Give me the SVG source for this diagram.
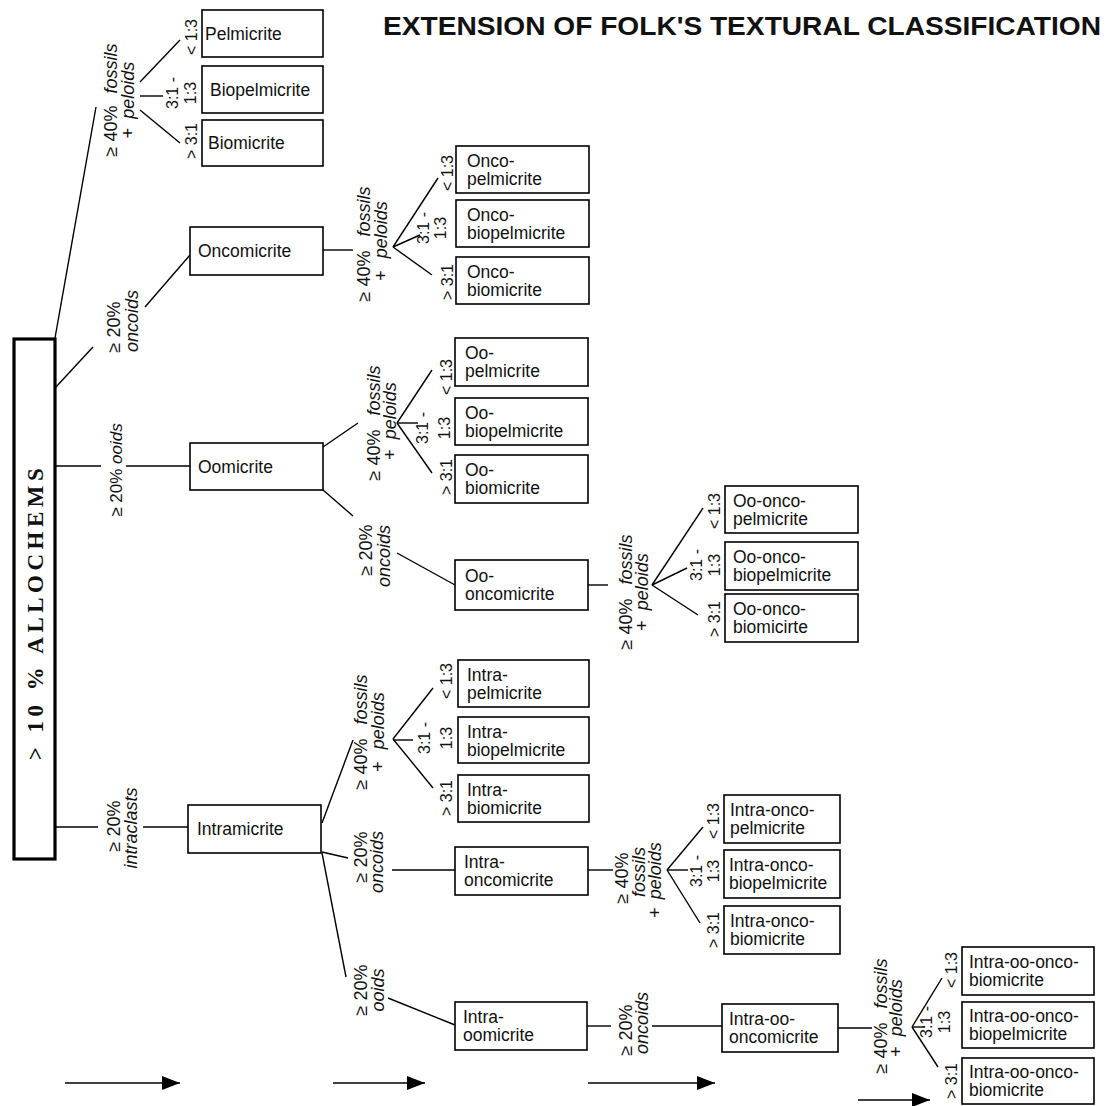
<svg xmlns="http://www.w3.org/2000/svg" width="1116" height="1106" viewBox="0 0 1116 1106">
<style>
.box{fill:#fff;stroke:#000;stroke-width:1.6}
.main{fill:#fff;stroke:#000;stroke-width:3.2}
.ln{stroke:#000;stroke-width:1.4;fill:none}
.t{font-family:"Liberation Sans",Arial,sans-serif;font-size:17.5px;fill:#111}
.lab{font-family:"Liberation Sans",Arial,sans-serif;font-size:18px;fill:#111;text-anchor:middle}
.rat{font-family:"Liberation Sans",Arial,sans-serif;font-size:16px;fill:#111;text-anchor:middle}
.it{font-style:italic}
.title{font-family:"Liberation Sans",Arial,sans-serif;font-size:25px;font-weight:bold;fill:#111}
</style>
<defs>
<marker id="ah" markerUnits="userSpaceOnUse" markerWidth="18" markerHeight="14" refX="18" refY="7" orient="auto">
<path d="M0,0 L18,7 L0,14 z" fill="#000"/>
</marker>
</defs>
<rect width="1116" height="1106" fill="#fff"/>
<text class="title" x="383" y="35" textLength="718" lengthAdjust="spacingAndGlyphs">EXTENSION OF FOLK'S TEXTURAL CLASSIFICATION</text>

<g id="connectors">
<line class="ln" x1="55" y1="338" x2="96" y2="107"/>
<line class="ln" x1="55" y1="388" x2="93" y2="347"/>
<line class="ln" x1="145" y1="307" x2="190" y2="255"/>
<line class="ln" x1="55" y1="466" x2="101" y2="466"/>
<line class="ln" x1="126" y1="466" x2="190" y2="466"/>
<line class="ln" x1="55" y1="827" x2="98" y2="827"/>
<line class="ln" x1="143" y1="827" x2="188" y2="827"/>
<line class="ln" x1="140" y1="82" x2="180" y2="40"/>
<line class="ln" x1="140" y1="96" x2="163" y2="96"/>
<line class="ln" x1="140" y1="110" x2="180" y2="143"/>
<line class="ln" x1="323" y1="250" x2="353" y2="250"/>
<line class="ln" x1="393" y1="247" x2="438" y2="178"/>
<line class="ln" x1="393" y1="247" x2="420" y2="235"/>
<line class="ln" x1="393" y1="247" x2="432" y2="275"/>
<line class="ln" x1="323" y1="447" x2="358" y2="423"/>
<line class="ln" x1="323" y1="490" x2="353" y2="516"/>
<line class="ln" x1="397" y1="553" x2="455" y2="585"/>
<line class="ln" x1="397" y1="423" x2="432" y2="370"/>
<line class="ln" x1="397" y1="423" x2="418" y2="423"/>
<line class="ln" x1="397" y1="423" x2="432" y2="473"/>
<line class="ln" x1="588" y1="585" x2="608" y2="585"/>
<line class="ln" x1="652" y1="585" x2="703" y2="508"/>
<line class="ln" x1="652" y1="585" x2="687" y2="568"/>
<line class="ln" x1="652" y1="585" x2="698" y2="615"/>
<line class="ln" x1="322" y1="823" x2="353" y2="740"/>
<line class="ln" x1="322" y1="852" x2="348" y2="858"/>
<line class="ln" x1="392" y1="870" x2="455" y2="870"/>
<line class="ln" x1="322" y1="853" x2="346" y2="977"/>
<line class="ln" x1="388" y1="998" x2="455" y2="1025"/>
<line class="ln" x1="393" y1="739" x2="433" y2="688"/>
<line class="ln" x1="393" y1="740" x2="413" y2="740"/>
<line class="ln" x1="393" y1="739" x2="433" y2="788"/>
<line class="ln" x1="588" y1="870" x2="613" y2="870"/>
<line class="ln" x1="667" y1="870" x2="703" y2="827"/>
<line class="ln" x1="667" y1="870" x2="688" y2="870"/>
<line class="ln" x1="667" y1="870" x2="700" y2="923"/>
<line class="ln" x1="587" y1="1026" x2="611" y2="1026"/>
<line class="ln" x1="652" y1="1026" x2="722" y2="1026"/>
<line class="ln" x1="838" y1="1028" x2="872" y2="1028"/>
<line class="ln" x1="912" y1="1027" x2="942" y2="978"/>
<line class="ln" x1="912" y1="1027" x2="925" y2="1027"/>
<line class="ln" x1="912" y1="1027" x2="938" y2="1067"/>
<line class="ln" x1="65" y1="1083" x2="180" y2="1083" marker-end="url(#ah)"/>
<line class="ln" x1="333" y1="1083" x2="425" y2="1083" marker-end="url(#ah)"/>
<line class="ln" x1="588" y1="1083" x2="715" y2="1083" marker-end="url(#ah)"/>
<line class="ln" x1="858" y1="1100" x2="930" y2="1100" marker-end="url(#ah)"/>
</g>

<g id="labels">
<text class="lab" transform="translate(117,100) rotate(-90)">≥ 40%<tspan class="it" dx="12">fossils</tspan></text>
<text class="lab" transform="translate(134,100) rotate(-90)">+<tspan class="it" dx="9">peloids</tspan></text>
<text class="rat" transform="translate(197,37) rotate(-90)">&lt; 1:3</text>
<text class="rat" transform="translate(178,93) rotate(-90)">3:1 -</text>
<text class="rat" transform="translate(196,93) rotate(-90)">1:3</text>
<text class="rat" transform="translate(197,141) rotate(-90)">&gt; 3:1</text>

<text class="lab" transform="translate(120,327) rotate(-90)">≥ 20%</text>
<text class="lab it" transform="translate(138,321) rotate(-90)">oncoids</text>
<text class="lab" transform="translate(122,470) rotate(-90)" style="font-size:17px">≥ 20% <tspan class="it">ooids</tspan></text>
<text class="lab" transform="translate(120,826) rotate(-90)">≥ 20%</text>
<text class="lab it" transform="translate(137,828) rotate(-90)">intraclasts</text>

<text class="lab" transform="translate(370,244) rotate(-90)">≥ 40%<tspan class="it" dx="14">fossils</tspan></text>
<text class="lab" transform="translate(387,241) rotate(-90)">+<tspan class="it" dx="12">peloids</tspan></text>
<text class="rat" transform="translate(453,173) rotate(-90)">&lt; 1:3</text>
<text class="rat" transform="translate(429,228) rotate(-90)">3:1 -</text>
<text class="rat" transform="translate(446,228) rotate(-90)">1:3</text>
<text class="rat" transform="translate(453,282) rotate(-90)">&gt; 3:1</text>

<text class="lab" transform="translate(380,423) rotate(-90)">≥ 40%<tspan class="it" dx="14">fossils</tspan></text>
<text class="lab" transform="translate(396,421) rotate(-90)">+<tspan class="it" dx="10">peloids</tspan></text>
<text class="rat" transform="translate(452,377) rotate(-90)">&lt; 1:3</text>
<text class="rat" transform="translate(428,428) rotate(-90)">3:1 -</text>
<text class="rat" transform="translate(450,428) rotate(-90)">1:3</text>
<text class="rat" transform="translate(452,477) rotate(-90)">&gt; 3:1</text>

<text class="lab" transform="translate(372,550) rotate(-90)">≥ 20%</text>
<text class="lab it" transform="translate(390,556) rotate(-90)">oncoids</text>

<text class="lab" transform="translate(632,592) rotate(-90)">≥ 40%<tspan class="it" dx="14">fossils</tspan></text>
<text class="lab" transform="translate(648,592) rotate(-90)">+<tspan class="it" dx="10">peloids</tspan></text>
<text class="rat" transform="translate(720,511) rotate(-90)">&lt; 1:3</text>
<text class="rat" transform="translate(702,565) rotate(-90)">3:1 -</text>
<text class="rat" transform="translate(720,565) rotate(-90)">1:3</text>
<text class="rat" transform="translate(720,619) rotate(-90)">&gt; 3:1</text>

<text class="lab" transform="translate(367,732) rotate(-90)">≥ 40%<tspan class="it" dx="14">fossils</tspan></text>
<text class="lab" transform="translate(384,732) rotate(-90)">+<tspan class="it" dx="12">peloids</tspan></text>
<text class="rat" transform="translate(452,681) rotate(-90)">&lt; 1:3</text>
<text class="rat" transform="translate(430,738) rotate(-90)">3:1 -</text>
<text class="rat" transform="translate(452,738) rotate(-90)">1:3</text>
<text class="rat" transform="translate(452,798) rotate(-90)">&gt; 3:1</text>

<text class="lab" transform="translate(367,857) rotate(-90)">≥ 20%</text>
<text class="lab it" transform="translate(383,862) rotate(-90)">oncoids</text>
<text class="lab" transform="translate(367,990) rotate(-90)">≥ 20%</text>
<text class="lab it" transform="translate(384,990) rotate(-90)">ooids</text>

<text class="lab" transform="translate(628,878) rotate(-90)">≥ 40%</text>
<text class="lab it" transform="translate(645,872) rotate(-90)">fossils</text>
<text class="lab" transform="translate(661,880) rotate(-90)">+<tspan class="it" dx="8">peloids</tspan></text>
<text class="rat" transform="translate(719,821) rotate(-90)">&lt; 1:3</text>
<text class="rat" transform="translate(702,871) rotate(-90)">3:1 -</text>
<text class="rat" transform="translate(719,871) rotate(-90)">1:3</text>
<text class="rat" transform="translate(719,930) rotate(-90)">&gt; 3:1</text>

<text class="lab" transform="translate(632,1030) rotate(-90)">≥ 20%</text>
<text class="lab it" transform="translate(648,1023) rotate(-90)">oncoids</text>

<text class="lab" transform="translate(887,1016) rotate(-90)">≥ 40%<tspan class="it" dx="14">fossils</tspan></text>
<text class="lab" transform="translate(902,1018) rotate(-90)">+<tspan class="it" dx="10">peloids</tspan></text>
<text class="rat" transform="translate(957,970) rotate(-90)">&lt; 1:3</text>
<text class="rat" transform="translate(932,1022) rotate(-90)">3:1 -</text>
<text class="rat" transform="translate(950,1022) rotate(-90)">1:3</text>
<text class="rat" transform="translate(957,1081) rotate(-90)">&gt; 3:1</text>
</g>

<g id="allochems">
<rect class="main" x="14" y="339" width="41" height="520"/>
<text transform="translate(43,612) rotate(-90)" text-anchor="middle" font-family="'Liberation Serif','Times New Roman',serif" font-weight="bold" font-size="23" letter-spacing="4.5" fill="#111">&gt; 10 % ALLOCHEMS</text>
</g>

<g id="pelmicrite"><rect class="box" x="202" y="10" width="121" height="47"/><text class="t" x="205" y="40">Pelmicrite</text></g>
<g id="biopelmicrite"><rect class="box" x="202" y="66" width="121" height="47"/><text class="t" x="210" y="96">Biopelmicrite</text></g>
<g id="biomicrite"><rect class="box" x="202" y="120" width="121" height="46"/><text class="t" x="208" y="149">Biomicrite</text></g>

<g id="oncomicrite"><rect class="box" x="190" y="227" width="133" height="48"/><text class="t" x="198" y="257">Oncomicrite</text></g>
<g id="oomicrite"><rect class="box" x="190" y="443" width="133" height="47"/><text class="t" x="198" y="473">Oomicrite</text></g>
<g id="intramicrite"><rect class="box" x="188" y="805" width="133" height="48"/><text class="t" x="197" y="835">Intramicrite</text></g>

<g id="onco-pelmicrite"><rect class="box" x="456" y="146" width="133" height="47"/><text class="t" x="467" y="167">Onco-<tspan x="467" dy="18">pelmicrite</tspan></text></g>
<g id="onco-biopelmicrite"><rect class="box" x="456" y="200" width="133" height="47"/><text class="t" x="467" y="221">Onco-<tspan x="467" dy="18">biopelmicrite</tspan></text></g>
<g id="onco-biomicrite"><rect class="box" x="456" y="257" width="133" height="47"/><text class="t" x="467" y="278">Onco-<tspan x="467" dy="18">biomicrite</tspan></text></g>

<g id="oo-pelmicrite"><rect class="box" x="455" y="338" width="133" height="48"/><text class="t" x="465" y="359">Oo-<tspan x="465" dy="18">pelmicrite</tspan></text></g>
<g id="oo-biopelmicrite"><rect class="box" x="455" y="398" width="133" height="47"/><text class="t" x="465" y="419">Oo-<tspan x="465" dy="18">biopelmicrite</tspan></text></g>
<g id="oo-biomicrite"><rect class="box" x="455" y="455" width="133" height="48"/><text class="t" x="465" y="476">Oo-<tspan x="465" dy="18">biomicrite</tspan></text></g>
<g id="oo-oncomicrite"><rect class="box" x="455" y="560" width="133" height="50"/><text class="t" x="465" y="582">Oo-<tspan x="465" dy="18">oncomicrite</tspan></text></g>

<g id="oo-onco-pelmicrite"><rect class="box" x="725" y="486" width="133" height="47"/><text class="t" x="733" y="507">Oo-onco-<tspan x="733" dy="18">pelmicrite</tspan></text></g>
<g id="oo-onco-biopelmicrite"><rect class="box" x="725" y="542" width="133" height="48"/><text class="t" x="733" y="563">Oo-onco-<tspan x="733" dy="18">biopelmicrite</tspan></text></g>
<g id="oo-onco-biomicirte"><rect class="box" x="725" y="594" width="133" height="48"/><text class="t" x="733" y="615">Oo-onco-<tspan x="733" dy="18">biomicirte</tspan></text></g>

<g id="intra-pelmicrite"><rect class="box" x="458" y="660" width="131" height="47"/><text class="t" x="467" y="681">Intra-<tspan x="467" dy="18">pelmicrite</tspan></text></g>
<g id="intra-biopelmicrite"><rect class="box" x="458" y="717" width="131" height="46"/><text class="t" x="467" y="738">Intra-<tspan x="467" dy="18">biopelmicrite</tspan></text></g>
<g id="intra-biomicrite"><rect class="box" x="458" y="775" width="131" height="47"/><text class="t" x="467" y="796">Intra-<tspan x="467" dy="18">biomicrite</tspan></text></g>
<g id="intra-oncomicrite"><rect class="box" x="455" y="847" width="133" height="48"/><text class="t" x="464" y="868">Intra-<tspan x="464" dy="18">oncomicrite</tspan></text></g>

<g id="intra-onco-pelmicrite"><rect class="box" x="724" y="795" width="116" height="48"/><text class="t" x="730" y="816">Intra-onco-<tspan x="730" dy="18">pelmicrite</tspan></text></g>
<g id="intra-onco-biopelmicrite"><rect class="box" x="724" y="850" width="116" height="48"/><text class="t" x="729" y="871">Intra-onco-<tspan x="729" dy="18">biopelmicrite</tspan></text></g>
<g id="intra-onco-biomicrite"><rect class="box" x="724" y="906" width="116" height="48"/><text class="t" x="730" y="927">Intra-onco-<tspan x="730" dy="18">biomicrite</tspan></text></g>

<g id="intra-oomicrite"><rect class="box" x="455" y="1002" width="132" height="48"/><text class="t" x="463" y="1023">Intra-<tspan x="463" dy="18">oomicrite</tspan></text></g>
<g id="intra-oo-oncomicrite"><rect class="box" x="722" y="1004" width="116" height="48"/><text class="t" x="729" y="1025">Intra-oo-<tspan x="729" dy="18">oncomicrite</tspan></text></g>

<g id="intra-oo-onco-biomicrite-1"><rect class="box" x="962" y="947" width="132" height="48"/><text class="t" x="969" y="968">Intra-oo-onco-<tspan x="969" dy="18">biomicrite</tspan></text></g>
<g id="intra-oo-onco-biopelmicrite"><rect class="box" x="962" y="1002" width="132" height="46"/><text class="t" x="969" y="1022">Intra-oo-onco-<tspan x="969" dy="18">biopelmicrite</tspan></text></g>
<g id="intra-oo-onco-biomicrite-2"><rect class="box" x="962" y="1058" width="132" height="46"/><text class="t" x="969" y="1078">Intra-oo-onco-<tspan x="969" dy="18">biomicrite</tspan></text></g>
</svg>
